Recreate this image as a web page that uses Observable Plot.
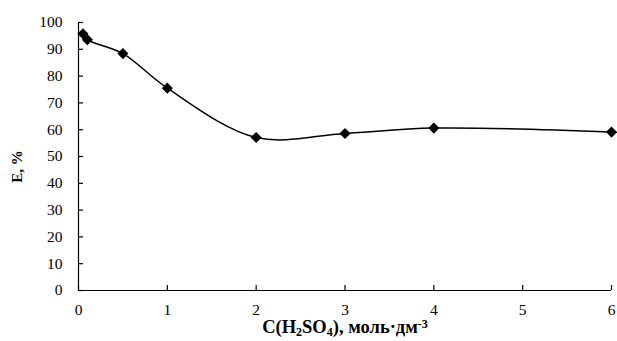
<!DOCTYPE html>
<html>
<head>
<meta charset="utf-8">
<script src="https://cdn.jsdelivr.net/npm/d3@7"></script>
<script src="https://cdn.jsdelivr.net/npm/@observablehq/plot@0.6"></script>
<style>
  html, body { margin: 0; padding: 0; background: #fff; }
  #chart { width: 617px; height: 341px; }
  #chart svg, #chart svg text { font-family: "Liberation Serif", "Times New Roman", serif; }
</style>
</head>
<body>
<div id="chart"></div>
<script>
// Data
const concentration = [0.05, 0.1, 0.5, 1, 2, 3, 4, 6];
const extraction = [95.8, 93.6, 88.4, 75.5, 57.1, 58.6, 60.6, 59.1];
const xTicks = [0, 1, 2, 3, 4, 5, 6];
const yTicks = [0, 10, 20, 30, 40, 50, 60, 70, 80, 90, 100];
const xTitle = "C(H2SO4), моль·дм-3";
const yTitle = "E, %";

const data = concentration.map((c, i) => ({c, e: extraction[i]}));

const font = "Liberation Serif";

const chart = Plot.plot({
  width: 617,
  height: 341,
  marginLeft: 78,
  marginRight: 6,
  marginTop: 22,
  marginBottom: 51,
  style: {fontFamily: font, fontSize: "15px", color: "#000", background: "#fff", overflow: "visible"},
  x: {domain: [0, 6]},
  y: {domain: [0, 100]},
  marks: [
    Plot.axisX(xTicks, {tickSize: 0, tickPadding: 13, label: null, fontSize: 15.5, fontFamily: font}),
    Plot.axisX(xTicks, {tickSize: -5, tickFormat: () => "", label: null, strokeWidth: 1.2}),
    Plot.axisY(yTicks, {tickSize: 0, tickPadding: 16, label: null, fontSize: 15.5, fontFamily: font}),
    Plot.axisY(yTicks, {tickSize: -5, tickFormat: () => "", label: null, strokeWidth: 1.2}),
    Plot.ruleX([0], {stroke: "#000", strokeWidth: 1.2}),
    Plot.ruleY([0], {stroke: "#000", strokeWidth: 1.2}),
    Plot.line(data, {x: "c", y: "e", curve: "catmull-rom", stroke: "#000", strokeWidth: 1.5}),
    Plot.dot(data, {x: "c", y: "e", symbol: "diamond2", r: 5, fill: "#000", stroke: "none"}),
    Plot.text([xTitle], {frameAnchor: "bottom", dy: 37, text: d => d, fontWeight: "bold", fontSize: 18.5, fontFamily: font, textAnchor: "middle", lineAnchor: "middle", className: "xtitle"}),
    Plot.text([yTitle], {frameAnchor: "left", dx: -61, dy: 10, rotate: -90, text: d => d, fontWeight: "bold", fontSize: 15, fontFamily: font, textAnchor: "middle", lineAnchor: "middle", className: "ytitle"})
  ]
});

document.getElementById("chart").appendChild(chart);

// Render sub/superscripts in the x-axis title
const t = d3.select(chart).select(".xtitle text");
if (!t.empty()) {
  t.text(null);
  const parts = [["C(H", null], ["2", "sub"], ["SO", null], ["4", "sub"], ["), моль·дм", null], ["-3", "sup"]];
  parts.forEach(([s, k]) => {
    const ts = t.append("tspan").text(s);
    if (k === "sub") ts.attr("font-size", 12).attr("baseline-shift", "-25%");
    if (k === "sup") ts.attr("font-size", 12).attr("baseline-shift", "45%");
  });
}
</script>
</body>
</html>
